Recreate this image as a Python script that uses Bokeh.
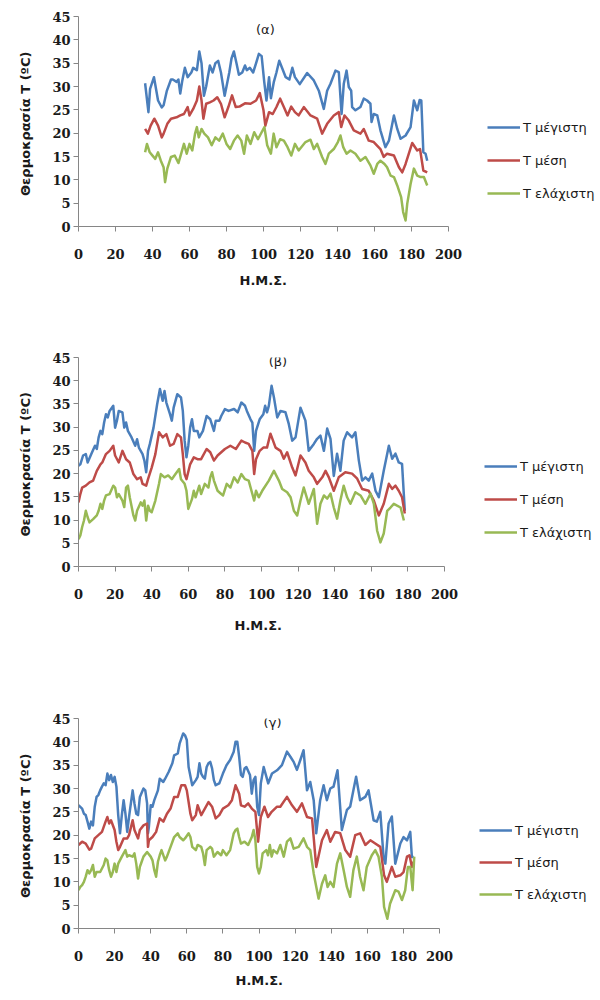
from bokeh.plotting import figure
from bokeh.layouts import column
from bokeh.models import Range1d, FixedTicker, Legend, LegendItem, Label, Title
from bokeh.embed import file_html
from bokeh.resources import INLINE

# ---------------- data ----------------
series_labels = ["T μέγιστη", "T μέση", "T ελάχιστη"]
panel_titles = ["(α)", "(β)", "(γ)"]
x_ticks = [0, 20, 40, 60, 80, 100, 120, 140, 160, 180, 200]
y_ticks = [0, 5, 10, 15, 20, 25, 30, 35, 40, 45]
x_axis_title = "Η.Μ.Σ."
y_axis_title = "Θερμοκρασία T  (ºC)"

# panel (α)
a_max_x = [36, 37.8, 38.7, 40.8, 43, 45, 46, 47.7, 50, 51, 53, 54, 55, 56, 57.5, 59, 61, 62, 64, 65.3,
           66.5, 67.8, 69, 71, 72.5, 74, 75.5, 77, 79, 80, 81.5, 82.7, 84, 85.4, 86.7, 88.5, 90, 91, 92.6, 94.4,
           96, 97.5, 99, 100.4, 101.6, 103, 104, 105.6, 107, 108.5, 110, 112, 114, 115.6, 117, 119.6,
           123.6, 127.2, 129.9, 132.6, 134.4, 136.2, 138.9, 140.7, 142.2, 143.4, 144.9, 146.1, 147.4, 147.9,
           149.7, 152.4, 154.2, 156, 157.8, 158.4, 159.6, 161.5, 163.2, 165.9, 167.8, 170.5, 172.3, 174.1,
           176.8, 179.5, 181.3, 183.1, 184.4, 185.3, 186.4, 187.6, 188.5]
a_max_y = [30.7, 24.5, 29.5, 32, 27, 25.5, 26, 29, 31.5, 31.5, 31, 31.5, 28.5, 31, 34, 32, 33, 34, 33.5, 37.5,
           35, 28, 30, 34.5, 33, 35, 35.5, 33, 28, 30, 33, 36, 37.5, 35, 32.5, 33, 34.5, 33.5, 34, 33,
           35, 37, 36.5, 31, 27, 32, 27.5, 31, 33, 35.5, 34, 32, 31.5, 34, 32, 30.5,
           32.9, 31.3, 29.1, 25.2, 29.1, 30.6, 33.4, 33.1, 24.1, 30.6, 33.4, 29.9, 29.1, 25.6,
           24.9, 25.6, 27.4, 27, 26.3, 22.4, 24.1, 23.8, 20.6, 17, 18.4, 23.8, 20.9, 18.8,
           19.5, 21.3, 27, 24.9, 27.1, 27, 15.9, 15.6, 14.1]
a_mean_x = [36, 37.5, 39, 41, 43, 45, 46, 48, 50, 53, 55, 57, 59, 60, 62, 64, 65.3, 66.5, 67.5, 69,
            71, 73, 75, 77, 79, 81, 83, 85, 87, 90, 93, 96, 98, 100, 101, 103, 105, 107, 109, 111,
            113, 115, 117, 119, 121.8, 125.4, 129, 131.7, 134.4, 138, 140.7, 142, 143.8, 146.1, 148.8,
            152.4, 154.2, 156.9, 159.6, 163.2, 165, 166.8, 170.5, 173.2, 175, 176.8, 180.4, 183.1, 184.6,
            186.4, 188.5]
a_mean_y = [20.9, 19.9, 21.6, 23.1, 21.6, 19.1, 19.9, 22, 23.1, 23.4, 23.8, 24.1, 25.6, 23.8, 25.2, 27, 30, 27, 23.1, 26.3,
            26.6, 27, 27.7, 26.3, 23.4, 25.6, 28.1, 25.6, 25.7, 26.4, 26.3, 27, 28.6, 24.9, 21.6, 24.5, 24.1, 25.6, 27.4, 25.6,
            23.8, 25.7, 24.5, 23.8, 25.6, 23.8, 23.1, 19.9, 22, 23.8, 24.5, 21.3, 23.8, 22.7, 20.6,
            19.9, 20.9, 18.4, 18.1, 16.6, 14.9, 15.6, 15.2, 12.7, 11.6, 13.4, 17.9, 16.3, 16.6,
            12, 11.6]
a_min_x = [36, 37, 38.5, 40, 41.5, 43, 44.5, 46, 46.8, 48, 50, 52, 54, 55.5, 57, 58.5, 60, 61.5, 63, 64,
           65, 66.5, 68, 70, 72, 74, 76, 78, 80, 82, 84, 86, 88, 89.5, 91, 93, 95, 97, 99, 100.5,
           102, 104, 105.5, 107, 109, 111, 113, 115, 117, 119, 122.7, 125.4, 127.2, 129, 131.7, 133.5,
           135.3, 138, 140.2, 141.6, 143.1, 144.9, 147, 149.7, 152.4, 155.1, 157.8, 159.6, 161.5, 163.2,
           165.4, 166.8, 168.7, 170.5, 172.3, 174.4, 175.5, 176.8, 177.7, 179.5, 181.3, 183.1, 184.9,
           186.7, 188.5]
a_min_y = [15.9, 17.7, 15.9, 15.2, 14.5, 15.9, 14.1, 12.7, 9.5, 12.4, 14.9, 15.2, 13.6, 15.6, 17.7, 15.6, 17.7, 16.3, 19.9, 21.3,
           19.1, 20.9, 19.9, 19.1, 17.4, 19.1, 18.4, 19.9, 17.7, 16.6, 18.4, 19.5, 18.4, 15.6, 19.5, 17.7, 20.2, 18.7, 20.2, 21.3,
           17.4, 15.6, 19.9, 17, 18.7, 18.4, 17, 15.2, 17.7, 16.3, 18.1, 18.6, 16.6, 17.7, 14.9, 13.4,
           15.6, 16.6, 18.1, 19.5, 17, 15.6, 16.3, 15.6, 14.1, 14.9, 13.1, 11.3, 13.4, 14.1,
           13.4, 12.7, 10.9, 10.6, 8.8, 6.3, 3.1, 1.3, 4.9, 9.1, 12.4, 10.9, 10.6,
           10.6, 8.8]

# panel (β)
b_max_x = [0, 1, 2.5, 4, 5, 7, 9, 10, 11, 12, 13, 14, 15, 16, 17, 19, 20, 21, 22, 24,
           25, 26, 27, 29, 31, 32, 33, 35, 36, 37, 38, 39, 41, 43, 44.5, 46, 47, 48, 50, 51,
           52, 54, 56, 57, 58, 59, 60, 61, 62, 63, 65, 66, 68, 70, 72, 74, 75, 77, 78, 80,
           82, 85, 87, 89, 91, 92, 94, 95, 96, 97, 99, 101, 102, 103, 104, 105.5, 106.8, 108.6, 110.4, 113.1,
           114.9, 116.8, 118.6, 121.3, 124, 125.8, 128.6, 130.4, 132.2, 134.1, 135.9, 137.7, 139.5, 141.3,
           143.1, 144.9, 146.8, 149.5, 151.3, 153.2, 155, 156.8, 158.6, 160.5, 162.3, 164.1, 166.8, 169.6,
           171.4, 173.2, 175, 176.8, 178.3]
b_max_y = [21.7, 22, 23.9, 24.2, 22.4, 24.2, 26, 25.3, 27.8, 29.2, 28.5, 31, 32.8, 32.1, 33.5, 34.6, 29.9, 31.4, 33.5, 33.2,
           29.9, 31, 29.2, 27.8, 26, 27.4, 25.6, 24.2, 22.8, 20.3, 24.9, 26.4, 29.9, 35, 38.2, 35.7, 37.8, 35.3, 32.8, 31.4,
           34.2, 37.1, 36.4, 33.5, 27.1, 23.5, 26, 29.9, 31.7, 29.2, 29.2, 27.8, 29.2, 32.4, 31.7, 29.2, 31.4, 31.4, 32.4, 33.9,
           33.5, 33.9, 33.2, 35.3, 34.6, 33.5, 31.7, 31, 24.9, 29.2, 31.7, 32.8, 34.6, 33.2, 34.6, 38.9, 36.4, 32.1, 33.5, 33.2,
           30.7, 27.1, 27.8, 34.2, 31.4, 24.9, 26.4, 27.5, 28.2, 24.9, 29.7, 27.5, 19.5, 24.3,
           20.6, 27.1, 28.9, 27.8, 28.9, 22.8, 18.5, 19.2, 18.5, 20, 16.3, 14.9, 20.6, 26,
           23.2, 24.3, 22.4, 22.1, 12]
b_mean_x = [0, 1, 2, 4, 6, 8, 10, 12, 13, 15, 17, 19, 20, 22, 24, 26, 28, 30, 32, 34,
            35, 37, 38, 40, 42, 44, 46, 48, 50, 52, 54, 56, 57, 58, 59, 61, 63, 65, 67, 70,
            72, 74, 76, 78, 80, 83, 86, 89, 91, 93, 95, 96, 97, 99, 101, 103, 104.9, 107.7, 110.4, 112.2,
            114, 116.8, 118.6, 121.3, 124, 125.8, 128.6, 130.4, 133.2, 135, 136.8, 139.5, 142.2, 145.8,
            149.5, 152.3, 155, 158.6, 161.4, 164.1, 166.8, 169.6, 171.4, 173.2, 175, 176.8, 178.3]
b_mean_y = [13.8, 15.6, 17, 17.4, 18.1, 18.5, 20.6, 22, 22.4, 24.2, 24.9, 26, 23.9, 22.4, 24.9, 23.1, 22.4, 19.9, 18.8, 19.2,
            17.8, 17.4, 18.8, 21.3, 24.2, 28.9, 27.8, 28.5, 26, 26.4, 28.5, 27.8, 24.2, 19.9, 18.8, 22, 23.5, 23.1, 23.1, 25.3,
            24.6, 22.8, 23.9, 24.6, 25.3, 26, 25.3, 27.1, 26.7, 26.4, 24.9, 19.9, 23.1, 24.9, 25.6, 25.6, 28.6, 25.6, 24.9, 23.2,
            24.6, 21.3, 19.6, 23.9, 22.4, 20.6, 19.2, 17.8, 19.2, 20.6, 19.2, 16.3, 19.2, 20.3,
            20, 18.9, 16.7, 16.3, 14.2, 11, 13.5, 17.8, 16.7, 17.4, 16.3, 14.9, 11.4]
b_min_x = [0, 1, 2, 3, 4, 5, 6, 8, 10, 11, 12, 13, 14, 15, 17, 19, 20, 21, 22, 24,
           25, 26, 27, 28, 30, 31, 32, 34, 35, 36, 37, 38, 39, 40, 42, 44, 45, 47, 49, 51,
           53, 55, 56, 58, 59, 60, 62, 63, 64, 66, 67, 69, 71, 72, 73, 74, 76, 78, 79, 81,
           83, 85, 87, 89, 91, 93, 95, 96, 97, 98.5, 100.4, 104, 106.8, 109.5, 111.3, 114, 115.9, 117.7, 119.5, 121.3,
           123.1, 125.8, 128.6, 130.4, 132.2, 134.1, 135.9, 137.7, 139.5, 141.3, 143.1, 144.9, 146.8, 148.6,
           151.3, 154.1, 156.8, 159.6, 161.4, 163.2, 165, 166.8, 168.7, 170.5, 172.3, 174.1, 176, 177.8]
b_min_y = [5.9, 6.7, 8.5, 9.9, 12, 10.6, 9.5, 10.2, 11, 12, 13.5, 12.4, 14.2, 15.3, 15.6, 17.4, 17, 14.9, 15.6, 14.2,
           12.8, 17, 17.4, 14.9, 11, 9.9, 12, 13.8, 13.1, 14.2, 9.9, 13.1, 12, 11.7, 14.2, 17.8, 19.9, 19.2, 19.6, 18.8,
           19.9, 21, 18.8, 17.8, 16.3, 12.4, 14.5, 16.3, 14.9, 17.4, 15.6, 17.8, 17, 19.2, 20.3, 18.5, 16.3, 15.6, 15.3, 17.8,
           17, 19.2, 18.1, 19.9, 18.8, 18.5, 15.6, 14.2, 16.3, 14.9, 16.3, 18.5, 20.6, 18.5, 16.7, 16, 14.9, 12, 11, 14.2,
           17, 13.5, 16.7, 9.2, 13.5, 15.3, 14.6, 15.7, 12.7, 10.3, 14.2, 17.4, 14.9, 13.5,
           16, 15.3, 13.5, 15.7, 13.5, 7.7, 5.2, 7.1, 12, 12.7, 13.5, 13.1, 12.7, 9.9]

# panel (γ)
g_max_x = [0, 2, 3, 4, 5, 6, 7, 8, 9, 10, 11, 12, 13, 14, 15, 16, 17, 18, 19, 20,
           21, 22, 23, 24, 25, 26, 27, 28, 30, 31, 32, 33, 34, 36, 37, 38, 38.5, 39, 40, 41,
           42, 44, 45, 47, 48, 50, 52, 53, 55, 56, 58, 59, 60, 61, 63, 65, 66, 67, 68, 69,
           70, 71, 72, 73, 74, 75, 76, 78, 80, 82, 84, 86, 87, 88, 89, 90, 91, 92, 93, 95,
           96, 97, 98, 99, 100, 101, 102.6, 105.1, 107.2, 110, 112.7, 115.5, 117.4, 119.2, 121, 122.9, 124.7, 126.6, 128.4, 130.3,
           131.7, 133.9, 135.8, 137.6, 139.5, 141.3, 143.5, 145.9, 148.7, 150.5, 152.3, 153.8, 156, 158.9, 160.7, 163.5, 165.3, 167.2, 169, 170,
           171.8, 173.6, 175.5, 178.3, 180.1, 182, 183.8, 184.7, 185.7]
g_max_y = [26.4, 25.7, 24.6, 24.3, 22.9, 21.4, 22.9, 22.1, 26.1, 28.2, 28.6, 29.6, 30.4, 31.1, 30.7, 33.2, 31.8, 32.9, 31.4, 32.5,
           30.4, 24.3, 20.4, 24.3, 27.5, 24.6, 20.7, 23.9, 29.6, 26.8, 24.6, 24.3, 28.2, 30, 29.6, 26.8, 20.4, 21.8, 26.4, 26.1,
           27.5, 29.6, 32.1, 31.4, 32.1, 33.6, 35.4, 37.1, 37.5, 39.6, 41.8, 41.4, 40.4, 34.6, 30.7, 31.8, 32.5, 35.4, 33.2, 32.5,
           32.1, 34.6, 35.4, 35.7, 34.3, 31.8, 30.7, 31.1, 33.2, 35, 36.1, 37.9, 40, 40, 36.8, 32.9, 32.5, 34.3, 34.6, 32.9,
           28.9, 31.8, 32.5, 26.1, 24.3, 31.1, 34.6, 31.1, 33.2, 33.9, 35, 37.9, 36.8, 35.7, 34, 36.1, 38.2, 29.6, 31.4, 27.5,
           20.4, 27.5, 30.7, 27.5, 30, 30.4, 33.9, 21.1, 25.4, 26.1, 29.6, 32.5, 27.5, 28.2, 29.6, 23.2, 22.9, 25, 15.3, 13.9,
           22.5, 24, 13.9, 18.2, 19.6, 18.9, 20.7, 15.3, 15.3]
g_mean_x = [0, 2, 4, 6, 7, 9, 11, 13, 15, 16, 17, 18, 20, 21, 22, 23, 25, 27, 28, 30,
            31, 33, 34, 36, 38, 38.5, 39, 41, 43, 45, 47, 49, 51, 53, 55, 57, 59, 60, 62, 63,
            65, 66, 68, 70, 72, 74, 76, 78, 80, 83, 85, 87, 89, 90, 92, 94, 96, 98, 99.5, 101,
            103, 105, 107, 110, 111.8, 115.5, 118.3, 121, 123.8, 126.6, 129.4, 131.7, 134.9, 137.6, 139.5, 142.2, 145, 147.8, 150.5, 153.3,
            156, 158.9, 161.7, 164.4, 167.2, 169.3, 170.8, 173.6, 175.5, 178.3, 180.1, 182, 183.4, 184.7, 185.7]
g_mean_y = [17.9, 18.6, 18.2, 16.9, 17.1, 19.3, 20, 20.7, 22.9, 23.9, 22.5, 23.2, 21.1, 18.6, 16.8, 17.5, 19.3, 19.3, 20, 23.2,
            21.1, 19.3, 21.1, 22.1, 22.5, 17.5, 18.9, 19.6, 20.7, 23.6, 22.9, 24.6, 25.7, 28.2, 28.2, 30.7, 30.7, 29.6, 24.6, 23.2,
            24.3, 26.4, 24.3, 25.7, 27.1, 26.1, 23.6, 24.3, 25.7, 26.4, 27.5, 30.7, 28.9, 26.4, 26.1, 26.8, 25.7, 25, 18.6, 23.9,
            26.1, 23.9, 25, 26.1, 26.1, 28.2, 26.4, 25, 26.8, 23.9, 23.6, 13.2, 18.9, 21.1, 18.6, 20.7, 20.4, 16.8, 15.4, 20,
            20.4, 17.9, 18.9, 18.2, 17.5, 11.4, 10, 13.2, 11.1, 11.4, 12.1, 15.4, 15.7, 13.2, 14.3]
g_min_x = [0, 1, 2, 3, 4, 5, 6, 7, 8, 9, 10, 12, 14, 15, 16, 17, 18, 19, 20, 21,
           22, 24, 26, 27, 28, 30, 31, 32, 33, 34, 35, 36, 38, 40, 41, 42, 43, 44, 45, 46,
           48, 49, 51, 53, 55, 56, 58, 59, 61, 62, 63, 65, 66, 68, 69, 70, 71, 73, 74, 75,
           77, 79, 80, 82, 84, 86, 87, 88, 89, 90, 92, 94, 96, 97, 98, 99, 100, 101, 102, 104,
           105, 106, 107, 108, 110, 111.8, 113.7, 115.5, 117.4, 119.2, 122, 124.7, 126.6, 128.4, 130.3, 132.1, 133, 134.9, 136.7, 138,
           139.5, 141.3, 143.2, 145, 146.9, 148.7, 150.5, 152.3, 154.2, 156, 157.9, 159.7, 162.5, 164.4, 166.2, 168.1, 169.3, 171.1, 172.6, 175.5,
           177.3, 179.2, 181, 182.5, 183.8, 185.1, 186]
g_min_y = [8.2, 8.9, 9.3, 10, 11.1, 12.5, 11.8, 12.5, 13.6, 11.1, 12.1, 12.1, 13.6, 15, 14.6, 12.5, 11.1, 12.1, 13.9, 12.1,
           13.9, 15.4, 16.8, 15.4, 15.7, 15.4, 16.1, 13.9, 10.7, 13.2, 14.3, 15.4, 16.4, 15.4, 14.6, 12.5, 11.1, 14.3, 15.7, 16.8,
           14.6, 15.4, 17.5, 19.6, 20.4, 19.6, 18.9, 19.3, 20.4, 19.6, 17.5, 16.8, 17.9, 17.5, 16.1, 13.6, 16.8, 17.5, 17.1, 15.4,
           16.4, 15.7, 16.8, 15.7, 16.8, 20.4, 21.1, 21.4, 19.6, 18.2, 18.6, 17.9, 19.6, 21.1, 18.9, 13.2, 11.8, 13.2, 16.1, 16.8,
           15.7, 17.9, 15.4, 16.8, 16.1, 17.9, 15.4, 18.6, 19.3, 17.1, 17.5, 19.3, 17.5, 16.8, 11.8, 8.2, 6.4, 9.6, 11.4, 8.9,
           10, 8.9, 13.9, 16.1, 12.5, 8.9, 6.8, 12.5, 15.4, 11.1, 8.2, 13.2, 15.7, 16.8, 15.4, 11.1, 4.6, 2.1, 5.3, 8.2,
           7.9, 6.1, 8.2, 13.2, 13.2, 8.2, 15.4]

# ---------------- styling ----------------
COLORS = ["#4A7EBB", "#BE4B48", "#98B954"]
AXIS_GRAY = "#868686"
TICK_FONT = "DejaVu Serif"
SANS = "DejaVu Sans"

W = 600
LEFT = 78
FRAME_W = W - LEFT
# px per x-unit of each panel (axis 0..200 spans 370 / 366 / 361 px)
layouts = [
    dict(h=340, top=16, fh=210, ppu=1.85, loc=(409, 23), sp=13, tx=101, ty=42.3, xt=161, xs=22),
    dict(h=350, top=17, fh=209, ppu=1.83, loc=(406, 24), sp=13, tx=109, ty=44.2, xt=156, xs=33),
    dict(h=310, top=28, fh=210, ppu=1.805, loc=(401, 24), sp=12, tx=107.5, ty=44.2, xt=157, xs=19),
]

data = [
    [(a_max_x, a_max_y), (a_mean_x, a_mean_y), (a_min_x, a_min_y)],
    [(b_max_x, b_max_y), (b_mean_x, b_mean_y), (b_min_x, b_min_y)],
    [(g_max_x, g_max_y), (g_mean_x, g_mean_y), (g_min_x, g_min_y)],
]

figs = []
for i, lay in enumerate(layouts):
    bottom = lay["h"] - lay["top"] - lay["fh"]
    x_end = FRAME_W / lay["ppu"]
    p = figure(width=W, height=lay["h"], output_backend="svg", toolbar_location=None,
               x_range=Range1d(0, x_end), y_range=Range1d(0, 45),
               min_border_left=LEFT, min_border_right=0,
               min_border_top=lay["top"], min_border_bottom=bottom)
    p.outline_line_color = None
    p.xgrid.visible = False
    p.ygrid.visible = False
    p.background_fill_color = "white"
    p.border_fill_color = "white"

    items = []
    for (xs, ys), c, lab in zip(data[i], COLORS, series_labels):
        n = min(len(xs), len(ys))
        r = p.line(xs[:n], ys[:n], line_color=c, line_width=2.5, line_join="round")
        items.append(LegendItem(label=lab, renderers=[r]))

    # axes
    p.xaxis.ticker = FixedTicker(ticks=x_ticks)
    p.xaxis.bounds = (0, 200)
    p.yaxis.ticker = FixedTicker(ticks=y_ticks)
    for ax in (p.xaxis[0], p.yaxis[0]):
        ax.axis_line_color = AXIS_GRAY
        ax.axis_line_width = 1
        ax.major_tick_line_color = AXIS_GRAY
        ax.major_tick_in = 0
        ax.major_tick_out = 5
        ax.minor_tick_line_color = None
        ax.major_label_text_font = TICK_FONT
        ax.major_label_text_font_style = "bold"
        ax.major_label_text_font_size = "13px"
        ax.major_label_text_color = "#1a1a1a"
        ax.axis_label_text_font = SANS
        ax.axis_label_text_font_style = "bold"
        ax.axis_label_text_font_size = "13px"
        ax.axis_label_text_color = "#1a1a1a"
    p.xaxis.major_label_standoff = 17
    p.yaxis.major_label_standoff = 3
    p.yaxis.axis_label = y_axis_title
    p.yaxis.axis_label_standoff = 16

    # x-axis title, centred under the 0..200 axis
    p.add_layout(Title(text=x_axis_title, align="left", offset=lay["xt"],
                       text_font=SANS, text_font_style="bold", text_font_size="13px",
                       text_color="#1a1a1a", vertical_align="top", standoff=lay["xs"]), "below")

    legend = Legend(items=items, location=lay["loc"], orientation="vertical",
                    spacing=lay["sp"], padding=0, margin=0,
                    border_line_color=None, background_fill_alpha=0,
                    glyph_width=33, glyph_height=20, label_height=20,
                    label_standoff=3, label_text_font=SANS,
                    label_text_font_size="13px", label_text_color="#1a1a1a")
    p.add_layout(legend)

    p.add_layout(Label(x=lay["tx"], y=lay["ty"], text=panel_titles[i],
                       text_align="center", text_baseline="middle",
                       text_font=SANS, text_font_size="13px", text_color="#1a1a1a"))
    figs.append(p)

layout = column(*figs, spacing=0)
open("out.html", "w").write(file_html(layout, INLINE))
